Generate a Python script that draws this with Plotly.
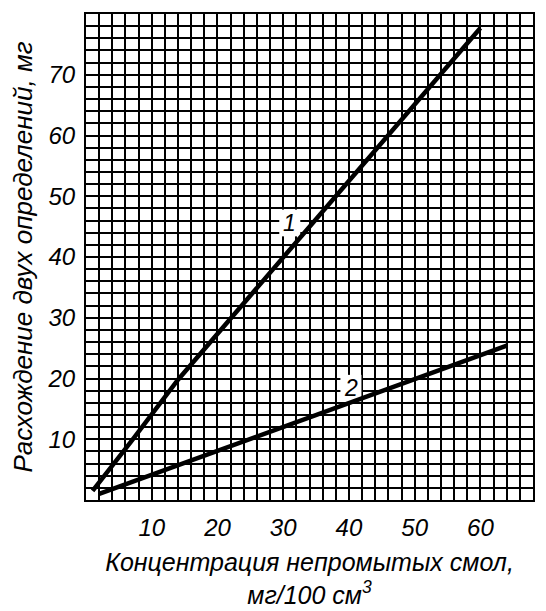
import plotly.graph_objects as go

# Data
curve1_x = [1, 7, 14, 28, 45, 60]
curve1_y = [1.5, 9.8, 19.8, 37.5, 59, 77.7]
curve2_x = [2, 30, 64]
curve2_y = [1, 12.1, 25.4]
x_ticks = [10, 20, 30, 40, 50, 60]
y_ticks = [10, 20, 30, 40, 50, 60, 70]
curve_labels = ["1", "2"]
label_x = [31, 40.3]
label_y = [45.6, 18.4]

FONT = "Liberation Sans Narrow, Liberation Sans, sans-serif"

fig = go.Figure()
for xs, ys in [(curve1_x, curve1_y), (curve2_x, curve2_y)]:
    fig.add_trace(go.Scatter(x=xs, y=ys, mode="lines",
                             line=dict(color="black", width=4.5),
                             showlegend=False, hoverinfo="skip"))

# white patches behind the curve numbers (erased grid)
for lx, ly in zip(label_x, label_y):
    fig.add_shape(type="rect", xref="x", yref="y", layer="between",
                  x0=lx - 1.6, x1=lx + 1.6, y0=ly - 2.2, y1=ly + 2.2,
                  fillcolor="white", line=dict(width=0))

for t, lx, ly in zip(curve_labels, label_x, label_y):
    fig.add_annotation(x=lx, y=ly, text=t, showarrow=False,
                       font=dict(family=FONT, size=23, color="black", style="italic"))

grid = dict(showgrid=True, gridcolor="black", gridwidth=1.8)
fig.update_xaxes(range=[0, 68], tickvals=x_ticks, ticks="", **grid,
                 minor=dict(dtick=2, tick0=0, showgrid=True, gridcolor="black", gridwidth=1.8),
                 showline=True, linecolor="black", linewidth=2, mirror=True,
                 zeroline=False, ticklabelstandoff=5,
                 tickfont=dict(family=FONT, size=24, color="black", style="italic"),
                 title=dict(text="Концентрация непромытых смол,<br>мг/100 см<sup>3</sup>",
                            font=dict(family=FONT, size=25, color="black", style="italic"),
                            standoff=14))
fig.update_yaxes(range=[0, 80], tickvals=y_ticks, ticks="", **grid,
                 minor=dict(dtick=2, tick0=0, showgrid=True, gridcolor="black", gridwidth=1.8),
                 showline=True, linecolor="black", linewidth=2, mirror=True,
                 zeroline=False, ticklabelstandoff=4,
                 tickfont=dict(family=FONT, size=24, color="black", style="italic"),
                 title=dict(text="Расхождение двух определений, мг",
                            font=dict(family=FONT, size=26, color="black", style="italic"),
                            standoff=12))
fig.update_layout(width=546, height=611, margin=dict(l=78, r=21, t=4, b=119),
                  plot_bgcolor="white", paper_bgcolor="white")
fig.write_html("out.html")
